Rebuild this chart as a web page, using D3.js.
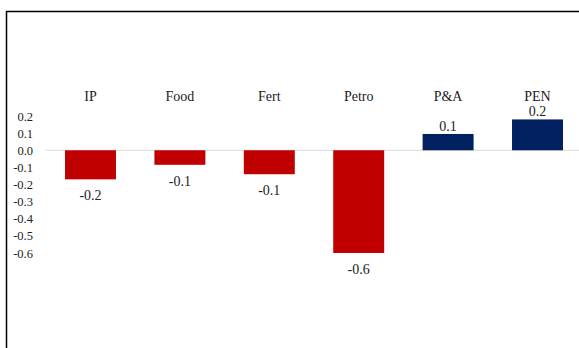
<!DOCTYPE html>
<html><head><meta charset="utf-8">
<script src="https://cdn.jsdelivr.net/npm/d3@7"></script>
<style>html,body{margin:0;padding:0;background:#fff;overflow:hidden}</style>
</head><body>
<script>
const categories = ["IP","Food","Fert","Petro","P&A","PEN"];
const values = [-0.17, -0.085, -0.14, -0.6, 0.095, 0.18];
const valueLabels = ["-0.2","-0.1","-0.1","-0.6","0.1","0.2"];
const yTicks = [0.2,0.1,0.0,-0.1,-0.2,-0.3,-0.4,-0.5,-0.6];

const W = 579, H = 348;
const svg = d3.select("body").append("svg").attr("width", W).attr("height", H);
const font = "'Liberation Serif', 'Times New Roman', serif";

// frame
svg.append("rect").attr("x", 6.5).attr("y", 11.5).attr("width", 600).attr("height", 400)
  .attr("fill", "none").attr("stroke", "#000").attr("stroke-width", 1.5);

const x = d3.scaleBand().domain(categories).range([45.8, 582.2]).paddingInner(0.43).paddingOuter(0.215);
const y = d3.scaleLinear().domain([-0.6, 0.2]).range([253, 116]);

// y axis labels
const yAxis = d3.axisLeft(y).tickValues(yTicks).tickFormat(d3.format(".1f")).tickSize(0).tickPadding(0);
const ga = svg.append("g").attr("transform", "translate(33,0)").call(yAxis);
ga.select(".domain").remove();
ga.selectAll("text").attr("font-family", font).attr("font-size", 12.5).attr("fill", "#222")
  .text(d => d3.format(".1f")(d).replace("−","-"));

// zero line
svg.append("line").attr("x1", 46).attr("x2", 582).attr("y1", y(0)).attr("y2", y(0))
  .attr("stroke", "#d9d9d9").attr("stroke-width", 1.2);

// bars
svg.selectAll("rect.bar").data(categories).enter().append("rect").attr("class","bar")
  .attr("x", d => x(d)).attr("width", x.bandwidth())
  .attr("y", (d,i) => y(Math.max(0, values[i])))
  .attr("height", (d,i) => Math.abs(y(values[i]) - y(0)))
  .attr("fill", (d,i) => values[i] < 0 ? "#C00000" : "#002060");

// category labels
svg.selectAll("text.cat").data(categories).enter().append("text").attr("class","cat")
  .attr("x", d => x(d) + x.bandwidth()/2).attr("y", 101)
  .attr("text-anchor","middle").attr("font-family", font).attr("font-size", 14).attr("fill","#222")
  .text(d => d);

// value labels
svg.selectAll("text.val").data(categories).enter().append("text").attr("class","val")
  .attr("x", d => x(d) + x.bandwidth()/2)
  .attr("y", (d,i) => values[i] < 0 ? y(values[i]) + 21 : y(values[i]) - 3)
  .attr("text-anchor","middle").attr("font-family", font).attr("font-size", 14).attr("fill","#222")
  .text((d,i) => valueLabels[i]);
</script>
</body></html>
